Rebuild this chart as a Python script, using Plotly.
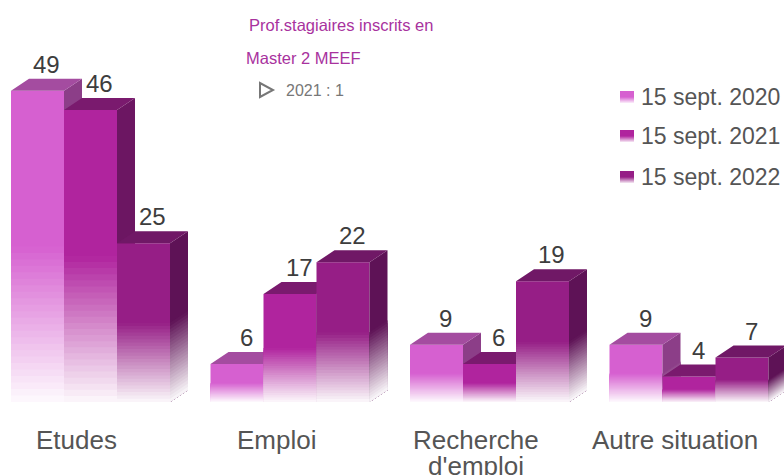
import plotly.graph_objects as go

# ---------------- data ----------------
categories = ["Etudes", "Emploi", "Recherche<br>d'emploi", "Autre situation"]
series_names = ["15 sept. 2020", "15 sept. 2021", "15 sept. 2022"]
values_2020 = [49, 6, 9, 9]
values_2021 = [46, 17, 6, 4]
values_2022 = [25, 22, 19, 7]
note_title = ["Prof.stagiaires inscrits en", "Master 2 MEEF"]
note_value = "2021 : 1"

series_values = [values_2020, values_2021, values_2022]

# ---------------- style ----------------
W, H = 784, 475
GROUP_PX = 199.5          # pixels per category
BAR_PX = 53               # front width of one bar
DEPTH_X_PX, DEPTH_Y_PX = 18, 12
BASE_PY = 402             # pixel row of the baseline
PX_PER_UNIT = 6.35
FIRST_GROUP_CENTER_PX = 90.5

front_cols = [(214, 96, 208), (176, 36, 158), (150, 30, 134)]
top_cols = [(164, 76, 160), (122, 26, 110), (112, 24, 102)]
side_cols = [(140, 62, 136), (108, 22, 98), (94, 18, 86)]

FONT = "Liberation Sans, Arial, sans-serif"
N_SEG = 24
FADE_FRAC = 0.5
A0 = 0.03

xmin = -FIRST_GROUP_CENTER_PX / GROUP_PX
xmax = xmin + W / GROUP_PX
ymin = -(H - BASE_PY) / PX_PER_UNIT
ymax = BASE_PY / PX_PER_UNIT

w = BAR_PX / GROUP_PX
dx = DEPTH_X_PX / GROUP_PX
dy = DEPTH_Y_PX / PX_PER_UNIT


def blend(c, a):
    """opaque colour: c at opacity a over white"""
    r, g, b = (round(255 + (ch - 255) * a) for ch in c)
    return f"rgb({r},{g},{b})"


def poly_trace(polys, color):
    xs, ys = [], []
    for p in polys:
        for (px, py) in p:
            xs.append(px)
            ys.append(py)
        xs.append(p[0][0])
        ys.append(p[0][1])
        xs.append(None)
        ys.append(None)
    return go.Scatter(x=xs, y=ys, mode="lines", fill="toself", fillcolor=color,
                      line=dict(width=0, color=color), hoverinfo="skip",
                      showlegend=False)


fig = go.Figure()
annotations = []

for j, vals in enumerate(series_values):
    lefts = [i - 1.5 * w + j * w for i in range(len(categories))]

    def front(b):
        return [[(xl, 0), (xl + w, 0), (xl + w, v * b), (xl, v * b)]
                for xl, v in zip(lefts, vals)]

    def side(b):
        return [[(xl + w, 0), (xl + w, v * b), (xl + w + dx, v * b + dy),
                 (xl + w + dx, dy)] for xl, v in zip(lefts, vals)]

    # front face: full bar, then stacked lighter layers towards the bottom
    fig.add_trace(poly_trace(front(1.0), blend(front_cols[j], 1)))
    for k in range(N_SEG - 1, -1, -1):
        b = FADE_FRAC * (k + 1) / N_SEG
        t = (k + 0.5) / N_SEG
        fig.add_trace(poly_trace(front(b), blend(front_cols[j], A0 + (1 - A0) * t)))
    # side face
    fig.add_trace(poly_trace(side(1.0), blend(side_cols[j], 1)))
    for k in range(N_SEG - 1, -1, -1):
        b = FADE_FRAC * (k + 1) / N_SEG
        t = (k + 0.5) / N_SEG
        fig.add_trace(poly_trace(side(b), blend(side_cols[j], A0 + (1 - A0) * t)))
    # top face
    tops = [[(xl, v), (xl + w, v), (xl + w + dx, v + dy), (xl + dx, v + dy)]
            for xl, v in zip(lefts, vals)]
    fig.add_trace(poly_trace(tops, blend(top_cols[j], 1)))

    for xl, v in zip(lefts, vals):
        annotations.append(dict(x=xl + w / 2 + dx / 2, y=v + dy, xref="x", yref="y",
                                text=str(v), showarrow=False, yanchor="bottom",
                                yshift=-1,
                                font=dict(family=FONT, size=24, color="#3d3d3d")))

# category labels
LABEL_SHIFT = -14 / GROUP_PX
for i, cat in enumerate(categories):
    for li, line in enumerate(cat.split("<br>")):
        py = 440 + li * 26
        annotations.append(dict(x=i + LABEL_SHIFT, y=1 - py / H, xref="x", yref="paper",
                                text=line, showarrow=False, yanchor="middle",
                                font=dict(family=FONT, size=26, color="#555555")))

shapes = []
# custom legend
legend_rows = [97, 136, 177]
for j, name in enumerate(series_names):
    cy = legend_rows[j]
    x0, x1 = 620 / W, 634 / W
    top = cy - 6
    nseg = 6
    shapes.append(dict(type="rect", xref="paper", yref="paper", x0=x0, x1=x1,
                       y0=1 - top / H, y1=1 - (top + 6) / H,
                       fillcolor=blend(front_cols[j], 1), line=dict(width=0)))
    for k in range(nseg):
        s0 = top + 6 + k
        shapes.append(dict(type="rect", xref="paper", yref="paper", x0=x0, x1=x1,
                           y0=1 - s0 / H, y1=1 - (s0 + 1) / H,
                           fillcolor=blend(front_cols[j], 1 - (k + 0.5) / nseg * 0.9),
                           line=dict(width=0)))
    annotations.append(dict(x=639 / W, y=1 - cy / H, xref="paper", yref="paper",
                            text=name, showarrow=False, xanchor="left", yanchor="middle",
                            font=dict(family=FONT, size=23, color="#555555")))

# note in top area
for li, line in enumerate(note_title):
    py = [25, 58][li]
    px = [247, 244][li]
    annotations.append(dict(x=px / W, y=1 - py / H, xref="paper", yref="paper",
                            text=line, showarrow=False, xanchor="left", yanchor="middle",
                            font=dict(family=FONT, size=16.5, color="#a8329e")))
annotations.append(dict(x=284 / W, y=1 - 90 / H, xref="paper", yref="paper",
                        text=note_value, showarrow=False, xanchor="left", yanchor="middle",
                        font=dict(family=FONT, size=16, color="#777777")))
tri = [(260, 83), (260, 97), (273, 90)]
path = "M " + " L ".join(f"{px / W:.5f},{1 - py / H:.5f}" for px, py in tri) + " Z"
shapes.append(dict(type="path", xref="paper", yref="paper", path=path,
                   line=dict(color="#777777", width=2), fillcolor="rgba(0,0,0,0)"))

fig.update_layout(
    width=W, height=H,
    margin=dict(l=0, r=0, t=0, b=0),
    paper_bgcolor="white", plot_bgcolor="white",
    xaxis=dict(range=[xmin, xmax], visible=False, fixedrange=True),
    yaxis=dict(range=[ymin, ymax], visible=False, fixedrange=True),
    showlegend=False,
    annotations=annotations,
    shapes=shapes,
)

fig.write_html("out.html")
